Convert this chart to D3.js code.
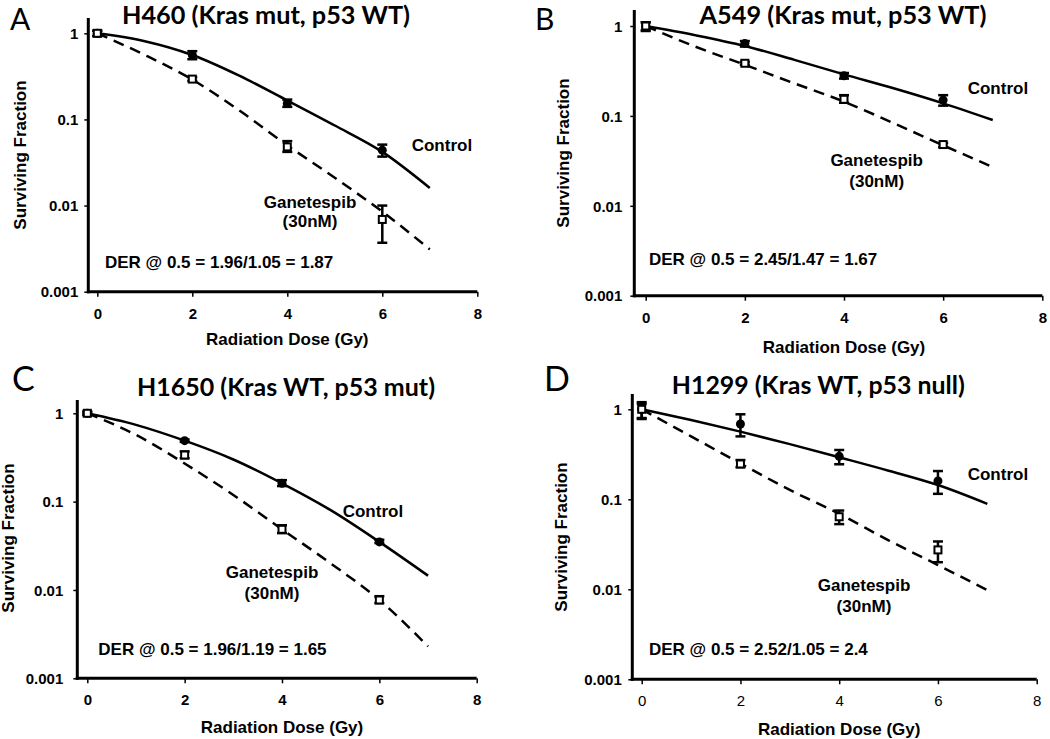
<!DOCTYPE html>
<html><head><meta charset="utf-8">
<script src="https://cdn.jsdelivr.net/npm/d3@7/dist/d3.min.js"></script>
<style>body{margin:0;background:#fff}svg{display:block}</style></head>
<body><svg id="c" width="1050" height="739"></svg>
<script>
// ---------- DATA ----------
const doses = [0, 2, 4, 6];
const fitDoses = [0, 1, 2, 3, 4, 5, 6, 7];
const xTicks = [0, 2, 4, 6, 8];
const yTicks = [1, 0.1, 0.01, 0.001];
const yTickLabels = ["1", "0.1", "0.01", "0.001"];
const panelLetters = ["A", "B", "C", "D"];
const panelTitles = ["H460 (Kras mut, p53 WT)", "A549 (Kras mut, p53 WT)", "H1650 (Kras WT, p53 mut)", "H1299 (Kras WT, p53 null)"];
const derTexts = ["DER @ 0.5 = 1.96/1.05 = 1.87", "DER @ 0.5 = 2.45/1.47 = 1.67", "DER @ 0.5 = 1.96/1.19 = 1.65", "DER @ 0.5 = 2.52/1.05 = 2.4"];
const controlLabel = "Control";
const drugLabel = ["Ganetespib", "(30nM)"];
const xTitle = "Radiation Dose (Gy)";
const yTitle = "Surviving Fraction";

// Control (filled circles)
const ctrlMean = [[1, 0.56, 0.153, 0.044], [1, 0.64, 0.28, 0.15], [1, 0.49, 0.161, 0.035], [1, 0.687, 0.30, 0.16]];
const ctrlLo   = [[0.93, 0.50, 0.14, 0.037], [0.90, 0.59, 0.26, 0.13], [0.97, 0.475, 0.15, 0.034], [0.78, 0.50, 0.245, 0.115]];
const ctrlHi   = [[1.07, 0.62, 0.17, 0.051], [1.10, 0.68, 0.30, 0.17], [1.03, 0.505, 0.175, 0.037], [1.20, 0.88, 0.353, 0.206]];
// Ganetespib 30nM (open squares)
const drugMean = [[1, 0.294, 0.048, 0.0069], [1, 0.385, 0.153, 0.048], [1, 0.337, 0.0486, 0.0077], [1, 0.247, 0.064, 0.0274]];
const drugLo   = [[0.93, 0.28, 0.042, 0.0037], [0.88, 0.37, 0.14, 0.045], [0.95, 0.31, 0.044, 0.0071], [0.80, 0.227, 0.053, 0.020]];
const drugHi   = [[1.07, 0.31, 0.056, 0.010], [1.10, 0.40, 0.17, 0.050], [1.05, 0.37, 0.054, 0.0085], [1.15, 0.273, 0.075, 0.034]];
// Fitted curves read at 0..7 Gy
const ctrlFit = [
  [1, 0.81, 0.56, 0.32, 0.166, 0.085, 0.042, 0.016],
  [1, 0.79, 0.60, 0.42, 0.29, 0.203, 0.138, 0.09],
  [1, 0.74, 0.49, 0.30, 0.161, 0.080, 0.035, 0.0145],
  [1, 0.76, 0.565, 0.41, 0.293, 0.208, 0.144, 0.089]
];
const drugFit = [
  [1, 0.56, 0.29, 0.126, 0.050, 0.021, 0.0085, 0.0031],
  [1, 0.59, 0.37, 0.23, 0.144, 0.083, 0.047, 0.027],
  [1, 0.57, 0.27, 0.119, 0.0486, 0.020, 0.0077, 0.0023],
  [1, 0.50, 0.25, 0.127, 0.069, 0.035, 0.0186, 0.0098]
];

// ---------- LAYOUT ----------
const layout = [
  {ax: 88.3, x0: 97.3, x8: 477.3, y1: 33.3, y3: 291.7, top: 18, tickGap: 10, xTitleY: 345, yTitleX: 26, yTitleY: 155,
   letter: [10, 30, 30], title: [266, 23.5, 288], ctrl: [411.7, 150.7], drug: [310, 208, 226.7], der: [105, 268.3], xTickBold: true},
  {ax: 634.3, x0: 645.7, x8: 1042.3, y1: 26, y3: 295.7, top: 10, tickGap: 12, xTitleY: 352.5, yTitleX: 569, yTitleY: 153,
   letter: [535, 30, 30], title: [843, 23.5, 287], ctrl: [967.7, 94], drug: [876.7, 165.7, 186.7], der: [649, 265], xTickBold: true},
  {ax: 77.3, x0: 87.3, x8: 476.7, y1: 413.3, y3: 678.3, top: 400, tickGap: 14, xTitleY: 733, yTitleX: 14, yTitleY: 538,
   letter: [12, 391, 34], title: [286, 396, 298], ctrl: [342.7, 517.3], drug: [272, 578.3, 599.3], der: [98.3, 655], xTickBold: true},
  {ax: 632.3, x0: 641.7, x8: 1036.7, y1: 409.3, y3: 679.3, top: 394, tickGap: 10.5, xTitleY: 735, yTitleX: 567, yTitleY: 537,
   letter: [544, 391, 34], title: [818.3, 393.5, 293], ctrl: [967.7, 480], drug: [864, 590.7, 611.7], der: [649, 655], xTickBold: false}
];

const svg = d3.select("#c");
const FONT = "'Liberation Sans', Arial, sans-serif";
const TFONT = "Lato, 'Open Sans', sans-serif";

layout.forEach((L, i) => {
  const g = svg.append("g");
  const x = d3.scaleLinear().domain([0, 8]).range([L.x0, L.x8]);
  const y = d3.scaleLog().domain([0.001, 1]).range([L.y3, L.y1]);

  // panel letter + title
  g.append("text").attr("x", L.letter[0]).attr("y", L.letter[1]).text(panelLetters[i])
    .attr("font-family", TFONT).attr("font-size", L.letter[2]).attr("fill", "#000");
  g.append("text").attr("x", L.title[0]).attr("y", L.title[1]).attr("text-anchor", "middle")
    .attr("textLength", L.title[2]).attr("lengthAdjust", "spacingAndGlyphs")
    .attr("font-family", TFONT).attr("font-weight", 700).attr("font-size", 24).text(panelTitles[i]);

  // axes
  const xAxis = d3.axisBottom(x).tickValues(xTicks).tickSize(5).tickPadding(0).tickFormat(d3.format("d"));
  const xg = g.append("g").attr("transform", `translate(0,${L.y3})`).call(xAxis);
  xg.select(".domain").remove();
  xg.selectAll(".tick line").attr("stroke", "#000").attr("stroke-width", 1.5);
  xg.selectAll(".tick text").attr("y", 27).attr("dy", 0).attr("font-family", FONT)
    .attr("font-size", 15).attr("font-weight", L.xTickBold ? "bold" : "normal").attr("fill", "#000");

  const yAxis = d3.axisLeft(y).tickValues(yTicks).tickSize(4).tickPadding(0)
    .tickFormat((d, k) => yTickLabels[k]);
  const yg = g.append("g").attr("transform", `translate(${L.ax},0)`).call(yAxis);
  yg.select(".domain").remove();
  yg.selectAll(".tick line").attr("stroke", "#000").attr("stroke-width", 1.5);
  yg.selectAll(".tick text").attr("x", -L.tickGap).attr("dy", "0.35em").attr("font-family", FONT)
    .attr("font-size", 15).attr("font-weight", "bold").attr("fill", "#000");

  g.append("line").attr("x1", L.ax).attr("x2", L.ax).attr("y1", L.top).attr("y2", L.y3 + 1.5)
    .attr("stroke", "#000").attr("stroke-width", 3);
  g.append("line").attr("x1", L.ax - 1.5).attr("x2", x(8)).attr("y1", L.y3).attr("y2", L.y3)
    .attr("stroke", "#000").attr("stroke-width", 3);

  // axis titles
  g.append("text").attr("x", (L.x0 + L.x8) / 2).attr("y", L.xTitleY).attr("text-anchor", "middle")
    .attr("font-family", FONT).attr("font-weight", "bold").attr("font-size", 17).text(xTitle);
  g.append("text").attr("transform", `translate(${L.yTitleX},${L.yTitleY}) rotate(-90)`).attr("text-anchor", "middle")
    .attr("font-family", FONT).attr("font-weight", "bold").attr("font-size", 17).text(yTitle);

  // fit curves
  const line = d3.line().x((d, k) => x(fitDoses[k])).y(d => y(d)).curve(d3.curveMonotoneX);
  g.append("path").attr("d", line(ctrlFit[i])).attr("fill", "none").attr("stroke", "#000").attr("stroke-width", 2.5);
  g.append("path").attr("d", line(drugFit[i])).attr("fill", "none").attr("stroke", "#000").attr("stroke-width", 2.5)
    .attr("stroke-dasharray", "11,7");

  // error bars + markers
  const drawErr = (lo, hi) => {
    doses.forEach((dd, k) => {
      const cx = x(dd);
      g.append("line").attr("x1", cx).attr("x2", cx).attr("y1", y(lo[k])).attr("y2", y(hi[k]))
        .attr("stroke", "#000").attr("stroke-width", 2.5);
      [lo[k], hi[k]].forEach(v => g.append("line").attr("x1", cx - 5).attr("x2", cx + 5)
        .attr("y1", y(v)).attr("y2", y(v)).attr("stroke", "#000").attr("stroke-width", 2.5));
    });
  };
  drawErr(ctrlLo[i], ctrlHi[i]);
  drawErr(drugLo[i], drugHi[i]);
  g.selectAll(null).data(ctrlMean[i]).enter().append("circle")
    .attr("cx", (d, k) => x(doses[k])).attr("cy", d => y(d)).attr("r", 4.5).attr("fill", "#000");
  g.selectAll(null).data(drugMean[i]).enter().append("rect")
    .attr("x", (d, k) => x(doses[k]) - 3.5).attr("y", d => y(d) - 3.5).attr("width", 7).attr("height", 7)
    .attr("fill", "#fff").attr("stroke", "#000").attr("stroke-width", 2);

  // labels
  g.append("text").attr("x", L.ctrl[0]).attr("y", L.ctrl[1]).attr("font-family", FONT)
    .attr("font-weight", "bold").attr("font-size", 17).text(controlLabel);
  g.append("text").attr("x", L.drug[0]).attr("y", L.drug[1]).attr("text-anchor", "middle").attr("font-family", FONT)
    .attr("font-weight", "bold").attr("font-size", 17).text(drugLabel[0]);
  g.append("text").attr("x", L.drug[0]).attr("y", L.drug[2]).attr("text-anchor", "middle").attr("font-family", FONT)
    .attr("font-weight", "bold").attr("font-size", 17).text(drugLabel[1]);
  g.append("text").attr("x", L.der[0]).attr("y", L.der[1]).attr("font-family", FONT)
    .attr("font-weight", "bold").attr("font-size", 17).text(derTexts[i]);
});
</script></body></html>
